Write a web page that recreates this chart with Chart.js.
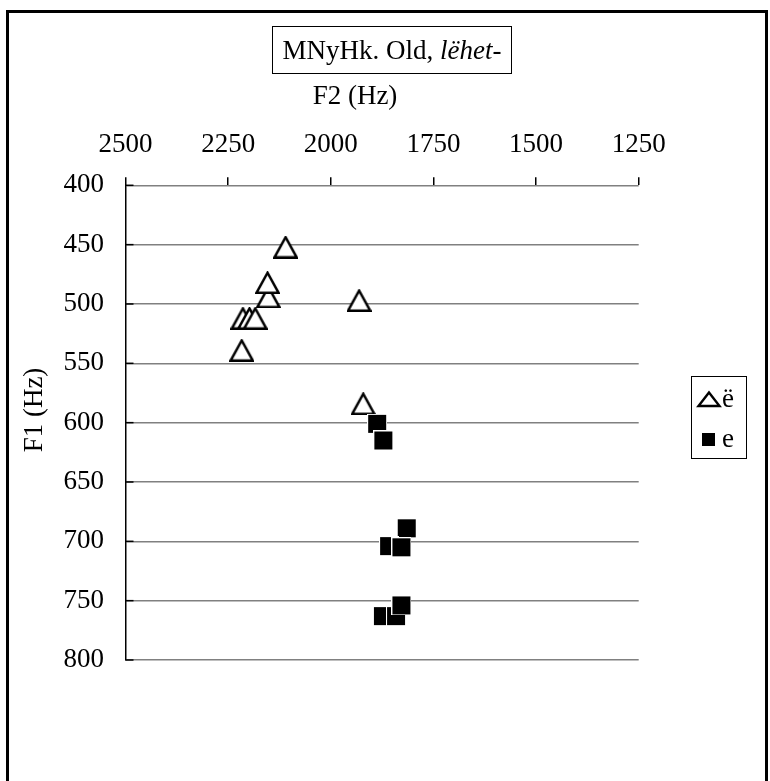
<!DOCTYPE html>
<html><head><meta charset="utf-8">
<script src="https://cdn.jsdelivr.net/npm/chart.js@4/dist/chart.umd.min.js"></script>
<style>html,body{margin:0;padding:0;background:#fff;}#wrap{position:relative;width:770px;height:781px;}</style>
</head><body><div id="wrap"><canvas id="c" width="770" height="781"></canvas></div>
<script>
// ---- data ----
const chartTitle = 'MNyHk. Old, ';
const chartTitleItalic = 'lëhet-';
const xTitle = 'F2 (Hz)';
const yTitle = 'F1 (Hz)';
const seriesNames = ['ë', 'e'];
const xTickValues = [2500, 2250, 2000, 1750, 1500, 1250];
const yTickValues = [400, 450, 500, 550, 600, 650, 700, 750, 800];
const eDiaF2 = [2110, 2152, 2154, 1931, 2214, 2198, 2184, 2217, 1921];
const eDiaF1 = [452, 494, 482, 497, 512, 512, 512, 539, 584];
const ePlainF2 = [1887, 1872, 1815, 1858, 1828, 1873, 1841, 1828];
const ePlainF1 = [601, 615, 689, 704, 705, 763, 763, 754];

const FONT = "'Liberation Serif', 'Times New Roman', serif";
const FS = 27;

function makeTriangle() {
  const c = document.createElement('canvas');
  c.width = 25; c.height = 23;
  const g = c.getContext('2d');
  g.beginPath();
  g.moveTo(12.5, 1.6); g.lineTo(23.6, 21.8); g.lineTo(1.4, 21.8); g.closePath();
  g.fillStyle = '#fff'; g.fill();
  g.lineWidth = 2.4; g.strokeStyle = '#000'; g.lineJoin = 'miter'; g.stroke();
  return c;
}
function makeSquare() {
  const c = document.createElement('canvas');
  c.width = 20; c.height = 20;
  const g = c.getContext('2d');
  g.fillStyle = '#fff'; g.fillRect(0, 0, 20, 20);
  g.fillStyle = '#000'; g.fillRect(1, 1, 18, 18);
  return c;
}
const triImg = makeTriangle();
const sqImg = makeSquare();

const decor = {
  id: 'decor',
  afterDraw(chart) {
    const ctx = chart.ctx;
    ctx.save();
    // outer frame
    ctx.strokeStyle = '#000'; ctx.lineWidth = 3;
    ctx.strokeRect(7.5, 11.5, 759, 800);
    // inner y ticks
    const ys = chart.scales.y, left = chart.chartArea.left;
    ctx.lineWidth = 1.5; ctx.strokeStyle = '#000';
    yTickValues.forEach(v => {
      const py = ys.getPixelForValue(v);
      ctx.beginPath(); ctx.moveTo(left, py); ctx.lineTo(left + 8, py); ctx.stroke();
    });
    // title box
    ctx.lineWidth = 1; ctx.strokeStyle = '#000';
    ctx.strokeRect(272.5, 26.5, 239, 47);
    ctx.fillStyle = '#000'; ctx.textBaseline = 'alphabetic'; ctx.textAlign = 'left';
    ctx.font = FS + 'px ' + FONT;
    const w1 = ctx.measureText(chartTitle).width;
    ctx.font = 'italic ' + FS + 'px ' + FONT;
    const w2 = ctx.measureText(chartTitleItalic).width;
    const sx = 392 - (w1 + w2) / 2;
    ctx.font = FS + 'px ' + FONT;
    ctx.fillText(chartTitle, sx, 59);
    ctx.font = 'italic ' + FS + 'px ' + FONT;
    ctx.fillText(chartTitleItalic, sx + w1, 59);
    // axis titles
    ctx.font = FS + 'px ' + FONT; ctx.textAlign = 'center';
    ctx.fillText(xTitle, 355, 104);
    ctx.save(); ctx.translate(41.5, 410); ctx.rotate(-Math.PI / 2);
    ctx.fillText(yTitle, 0, 0); ctx.restore();
    // legend
    ctx.lineWidth = 1; ctx.strokeRect(691.5, 376.5, 55, 82);
    ctx.beginPath(); ctx.moveTo(709, 392.5); ctx.lineTo(719.5, 406); ctx.lineTo(698.5, 406); ctx.closePath();
    ctx.lineWidth = 2.4; ctx.lineJoin = 'miter'; ctx.fillStyle = '#fff'; ctx.fill(); ctx.stroke();
    ctx.fillStyle = '#000'; ctx.fillRect(702, 433, 13, 13);
    ctx.textAlign = 'left'; ctx.font = FS + 'px ' + FONT;
    ctx.fillText(seriesNames[0], 722, 407);
    ctx.fillText(seriesNames[1], 722, 447);
    ctx.restore();
  }
};

new Chart(document.getElementById('c'), {
  type: 'scatter',
  data: {
    datasets: [
      { label: seriesNames[0], order: 2,
        data: eDiaF2.map((x, i) => ({ x: x, y: eDiaF1[i] })),
        pointStyle: triImg, pointRadius: 11, pointHoverRadius: 11 },
      { label: seriesNames[1], order: 1,
        data: ePlainF2.map((x, i) => ({ x: x, y: ePlainF1[i] })),
        pointStyle: sqImg, pointRadius: 10, pointHoverRadius: 10 }
    ]
  },
  options: {
    responsive: false, animation: false, devicePixelRatio: 1,
    layout: { padding: { left: 0, top: 0, right: 131.3, bottom: 121 } },
    plugins: { legend: { display: false }, title: { display: false }, tooltip: { enabled: false } },
    scales: {
      x: {
        type: 'linear', position: 'top', reverse: true, min: 1250, max: 2500,
        afterBuildTicks(s) { s.ticks = xTickValues.map(v => ({ value: v })); },
        afterFit(s) { s.height = 185.3; },
        ticks: { font: { family: FONT, size: FS }, color: '#000', padding: 16, maxRotation: 0, autoSkip: false,
                 callback: v => String(v) },
        grid: { drawOnChartArea: false, drawTicks: true, tickLength: 8, color: '#000', lineWidth: 1.5 },
        border: { display: false },
        title: { display: false }
      },
      y: {
        type: 'linear', reverse: true, min: 400, max: 800,
        afterBuildTicks(s) { s.ticks = yTickValues.map(v => ({ value: v })); },
        afterFit(s) { s.width = 125.5; },
        ticks: { font: { family: FONT, size: FS }, color: '#000', padding: 21.5, autoSkip: false,
                 callback: v => String(v) },
        grid: { color: '#808080', lineWidth: 1.5, drawTicks: false, tickLength: 0 },
        border: { display: true, color: '#000', width: 1.5 },
        title: { display: false }
      }
    }
  },
  plugins: [decor]
});
</script></body></html>
